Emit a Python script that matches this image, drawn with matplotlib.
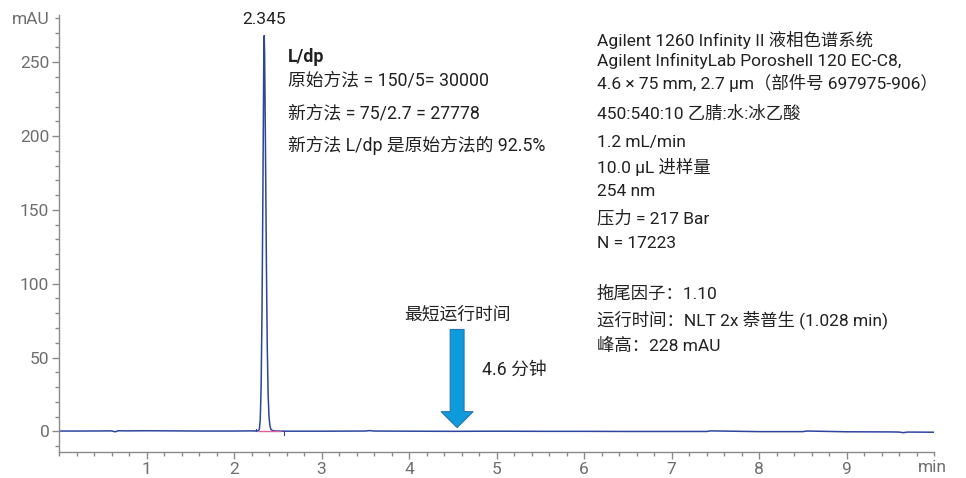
import matplotlib
matplotlib.use("Agg")
from matplotlib import pyplot as plt
from matplotlib.ticker import MultipleLocator

plt.rcParams['font.family'] = ['Roboto', 'Noto Sans CJK SC', 'DejaVu Sans']

# chromatogram trace (min, mAU)
time_min = [0.0, 0.3, 0.6, 0.64, 0.68, 0.75, 1.0, 1.3, 1.6, 2.0, 2.2, 2.26,
            2.28, 2.29, 2.30, 2.31, 2.32, 2.33, 2.34, 2.345, 2.35, 2.36, 2.37,
            2.38, 2.39, 2.40, 2.41, 2.42, 2.44, 2.48, 2.6, 3.0, 3.5, 3.55,
            3.6, 4.0, 4.5, 5.0, 5.5, 6.0, 6.5, 7.0, 7.4, 7.45, 8.0, 8.5,
            8.55, 9.0, 9.5, 9.6, 9.65, 9.7, 10.0]
absorbance = [0.2, 0.2, 0.3, -0.3, 0.4, 0.3, 0.4, 0.3, 0.2, 0.2, 0.3, 0.2,
              0.4, 1.5, 8, 30, 80, 160, 250, 268, 255, 190, 115,
              58, 25, 10, 4, 1.5, 0.5, 0.2, 0.1, 0.1, 0.2, 0.5,
              0.2, 0.1, 0.0, 0.1, 0.0, 0.0, -0.1, -0.1, -0.1, 0.3, -0.2, -0.2,
              0.2, -0.3, -0.4, -0.5, -0.9, -0.5, -0.6]

peak_rt = 2.345
peak_start, peak_end = 2.29, 2.52
run_time = 4.6
arrow_x = 4.55

method_lines = [
    ("Agilent 1260 Infinity II 液相色谱系统", 40),
    ("Agilent InfinityLab Poroshell 120 EC-C8,", 61),
    ("4.6 × 75 mm, 2.7 µm（部件号 697975-906）", 83),
    ("450:540:10 乙腈:水:冰乙酸", 114),
    ("1.2 mL/min", 142),
    ("10.0 µL 进样量", 167),
    ("254 nm", 192),
    ("压力 = 217 Bar", 218),
    ("N = 17223", 243),
    ("拖尾因子：1.10", 294),
    ("运行时间：NLT 2x 萘普生 (1.028 min)", 320),
    ("峰高：228 mAU", 346),
]

ldp_lines = [
    ("原始方法 = 150/5= 30000", 80),
    ("新方法 = 75/2.7 = 27778", 113),
    ("新方法 L/dp 是原始方法的 92.5%", 145),
]

W, H = 966, 478
fig = plt.figure(figsize=(W / 100, H / 100), dpi=100)
ax = fig.add_axes([59 / W, 1 - 452 / H, (934 - 59) / W, (452 - 15) / H])

ax.plot(time_min, absorbance, color='#2d459e', lw=1.1)
# integration baseline and peak markers
ax.plot([peak_start, peak_end], [0, 0], color='#e0609a', lw=1.0)
ax.plot([2.25, 2.25], [0, 1.8], color='#2d459e', lw=0.8)
ax.plot([2.57, 2.57], [0, -2.5], color='#2d459e', lw=0.8)

ax.set_xlim(0, 10)
ax.set_ylim(-14, 282)
ax.xaxis.set_major_locator(MultipleLocator(1))
ax.xaxis.set_minor_locator(MultipleLocator(0.2))
ax.yaxis.set_major_locator(MultipleLocator(50))
ax.yaxis.set_minor_locator(MultipleLocator(10))
ax.set_xticks(range(1, 10))

for s in ['top', 'right']:
    ax.spines[s].set_visible(False)
for s in ['left', 'bottom']:
    ax.spines[s].set_color('#8a8a8a')
    ax.spines[s].set_linewidth(1.0)
ax.tick_params(which='major', length=5, width=1, color='#8a8a8a',
               labelcolor='#6e6e6e', labelsize=12.5, pad=2)
ax.tick_params(which='minor', length=3, width=1, color='#8a8a8a')

fig.text(50 / W, 1 - 20 / H, "mAU", ha='right', va='center', fontsize=12.5, color='#6e6e6e')
fig.text(918 / W, 1 - 468 / H, "min", ha='left', va='center', fontsize=12.5, color='#6e6e6e')

# retention time label
ax.text(peak_rt, 274, f"{peak_rt:.3f}", ha='center', va='bottom', fontsize=12.5, color='#222222')

# minimum run time arrow
ax.annotate('', xy=(arrow_x, 2.5), xytext=(arrow_x, 69),
            arrowprops=dict(arrowstyle='simple,head_width=2.3,head_length=1.15,tail_width=1.0',
                            fc='#0e9bdc', ec='#2a75b0', lw=0.8, mutation_scale=10,
                            shrinkA=0, shrinkB=0))
fig.text(457 / W, 1 - 315 / H, "最短运行时间", ha='center', va='center', fontsize=12.8, color='#222222')
fig.text(482 / W, 1 - 370 / H, f"{run_time} 分钟", ha='left', va='center', fontsize=12.8, color='#222222')

fig.text(288 / W, 1 - 57 / H, "L/dp", ha='left', va='center', fontsize=12.8,
         fontweight='bold', color='#222222')
for txt, y in ldp_lines:
    fig.text(288 / W, 1 - y / H, txt, ha='left', va='center', fontsize=12.8, color='#222222')

for txt, y in method_lines:
    fig.text(597 / W, 1 - y / H, txt, ha='left', va='center', fontsize=12.5, color='#222222')

fig.savefig("out.png", dpi=100)
